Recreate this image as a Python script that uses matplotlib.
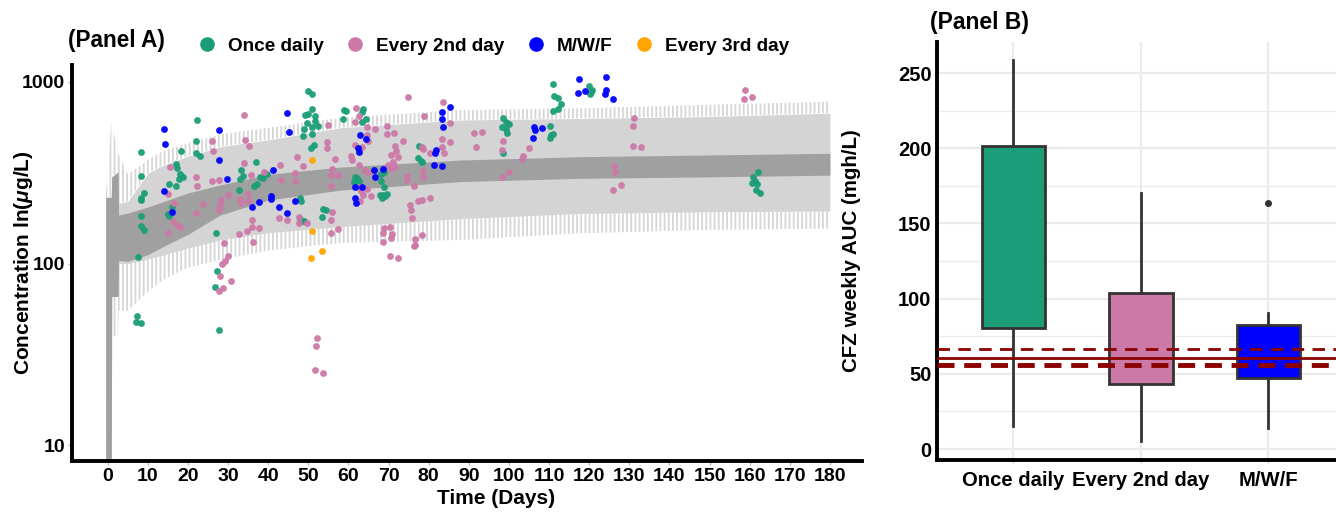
import numpy as np
import matplotlib
matplotlib.use("Agg")
import matplotlib.pyplot as plt
from matplotlib.lines import Line2D

plt.rcParams['font.family'] = ['Liberation Sans', 'DejaVu Sans']
plt.rcParams['font.weight'] = 'bold'
plt.rcParams['mathtext.fontset'] = 'custom'
plt.rcParams['mathtext.it'] = 'Liberation Sans:bold:italic'
plt.rcParams['mathtext.rm'] = 'Liberation Sans:bold'
plt.rcParams['hatch.linewidth'] = 1.3

# ---- Panel A: simulated band ----
band_day = [-0.5, 0.9, 1.0, 2.6, 2.7, 5, 10, 14, 20, 28, 40, 58, 88, 118, 148, 180]
mid_hi = [232, 232, 300, 320, 185, 190, 205, 220, 245, 271, 310, 340, 372, 388, 396, 405]
mid_lo = [8, 8, 66, 66, 104, 103, 112, 125, 145, 185, 224, 254, 283, 295, 300, 307]
pi_hi = [232, 232, 300, 320, 215, 220, 314, 350, 390, 440, 480, 560, 618, 630, 644, 673]
pi_hi_peak = [232, 600, 600, 400, 400, 310, 372, 420, 460, 515, 560, 635, 701, 716, 747, 779]
pi_lo = [8, 8, 66, 66, 100, 100, 106, 112, 122, 135, 148, 160, 177, 189, 193, 195]
pi_lo_trough = [8, 8, 40, 40, 55, 55, 70, 82, 95, 105, 118, 130, 135, 147, 153, 156]

# ---- Panel A: observed concentrations ----
od_day = [22.3, 8.3, 22.0, 18.3, 21.9, 22.9, 17.0, 17.3, 8.4, 18.1, 18.8, 17.8, 15.3, 16.9, 9.1, 8.2, 8.3,
          16.0, 15.0, 15.2, 8.2, 8.3, 9.1, 27.0, 7.5, 27.3, 26.8, 7.3, 7.1, 8.2, 27.7,
          50.0, 51.0, 50.8, 49.8, 49.1, 51.6, 49.6, 51.6, 49.0, 50.8, 52.4, 48.7, 51.0, 50.6, 51.5,
          36.9, 33.2, 33.8, 33.0, 37.9, 39.2, 39.8, 38.8, 37.1, 36.5, 32.7, 48.0, 48.3, 47.9, 48.5, 49.0,
          53.7, 54.4, 53.5,
          58.8, 59.5, 63.7, 63.4, 58.6, 64.3, 63.5, 77.7, 77.3, 78.0, 78.4, 68.0, 68.9, 61.6, 62.2, 61.4,
          62.6, 68.0, 68.9, 67.8, 68.6, 69.6, 68.4, 69.0,
          111.1, 111.3, 112.2, 113.0, 112.3, 111.0, 98.5, 99.3, 100.1, 98.2, 99.3, 99.6, 110.2, 110.5,
          111.1, 110.3, 98.6,
          120.0, 120.8, 120.2, 120.4,
          162.0, 160.8, 161.3, 160.5, 161.9, 161.6, 162.6]
od_conc = [614, 412, 473, 417, 409, 391, 352, 338, 302, 312, 300, 293, 273, 268, 244, 230, 225,
           204, 187, 184, 183, 161, 154, 148, 109, 91, 74, 51.5, 48, 47, 43,
           892, 858, 710, 665, 657, 650, 595, 612, 549, 562, 572, 505, 515, 432, 450,
           363, 328, 304, 291, 300, 310, 312, 295, 275, 268, 255, 230, 222, 176, 172, 171,
           199, 197, 181,
           701, 690, 707, 681, 625, 625, 600, 446, 380, 368, 364, 310, 319, 299, 295, 283,
           286, 286, 265, 238, 240, 241, 230, 236,
           975, 837, 813, 757, 710, 692, 636, 601, 588, 567, 549, 527, 572, 510,
           515, 489, 409,
           955, 904, 859, 884,
           318, 299, 285, 278, 275, 254, 246]

e2_day = [26.1, 26.2, 15.5, 22.0, 22.3, 25.9, 27.7, 15.1, 16.5, 23.8, 21.9, 27.7, 16.2, 17.2, 18.0, 15.1,
          34.0, 55.0, 34.2, 35.1, 54.7, 54.7, 47.1, 56.6, 33.9, 42.9, 48.6, 55.8, 55.6, 57.4, 39.0, 46.8,
          35.7, 43.2, 46.7, 55.7, 34.9, 29.9, 28.2, 28.1, 32.9, 33.2, 34.9, 55.9, 55.7, 42.7, 44.7, 47.7,
          47.6, 49.6, 35.9, 37.8, 35.9, 34.8, 32.8, 36.3, 29.1, 55.6, 57.4, 29.9, 29.2, 28.4, 28.0, 30.8,
          28.8, 27.8, 52.1, 51.9, 51.7, 53.7,
          74.8, 83.6, 62.0, 61.6, 62.7, 64.6, 78.8, 69.6, 66.5, 69.5, 71.4, 64.6, 85.2, 64.9, 73.5, 85.2,
          83.3, 83.3, 83.7, 61.6, 63.5, 71.5, 71.8, 70.5, 72.3, 78.3, 78.7, 80.4, 60.6, 60.9, 62.6, 64.1,
          64.9, 69.8, 71.1, 70.5, 71.5, 74.6, 74.7, 78.6, 78.6, 62.6, 63.1, 63.6, 76.3, 64.6, 65.5, 63.0,
          77.3, 78.4, 80.4, 75.4, 75.5, 75.8, 68.9, 70.3, 68.5, 70.8, 70.5, 68.6, 78.3, 76.7, 76.5, 76.3,
          70.4, 72.3,
          91.4, 93.2, 91.7, 98.6, 98.3, 105.1, 103.4, 103.2, 100.1, 98.3,
          131.2, 131.0, 130.9, 132.9, 126.2, 126.4, 128.0, 126.0,
          158.8, 160.7, 158.6]
e2_conc = [475, 417, 340, 298, 268, 285, 287, 241, 217, 213, 189, 197, 172, 164, 160, 148,
           655, 580, 478, 443, 465, 435, 386, 375, 357, 348, 343, 330, 307, 306, 320, 315,
           309, 288, 285, 267, 243, 240, 224, 210, 226, 217, 220, 192, 175, 178, 173, 181,
           167, 168, 174, 158, 159, 151, 145, 132, 130, 148, 155, 110, 104, 100, 86, 80,
           73, 71, 39, 35, 26, 25,
           830, 779, 716, 600, 652, 567, 650, 572, 549, 515, 527, 510, 595, 475, 471, 469,
           485, 440, 405, 450, 437, 446, 417, 396, 386, 437, 427, 409, 391, 372, 349, 327,
           320, 349, 364, 333, 340, 303, 288, 299, 322, 265, 250, 240, 267, 257, 236, 220,
           220, 223, 230, 210, 197, 178, 157, 160, 147, 146, 138, 132, 144, 137, 127, 125,
           110, 108,
           527, 532, 437, 473, 422, 432, 391, 377, 318, 299,
           630, 572, 446, 437, 345, 320, 272, 254,
           904, 830, 804]

mwf_day = [14.1, 14.4, 27.7, 27.7, 14.0, 16.0,
           44.8, 45.1, 41.2, 29.8, 40.8, 40.7, 46.6, 37.8, 35.9, 42.7, 44.7,
           85.2, 83.3, 83.3, 83.6, 62.8, 64.5, 62.4, 62.6, 81.8, 81.5, 81.3, 83.3, 66.4, 68.5, 66.7,
           61.7, 63.4, 61.6, 62.0,
           106.2, 106.6, 108.2, 106.1,
           117.4, 117.1, 119.0, 124.3, 124.2, 124.0, 125.9]
mwf_conc = [550, 456, 547, 373, 250, 192,
            672, 532, 326, 291, 235, 228, 221, 218, 204, 206, 189,
            731, 681, 625, 567, 510, 483, 435, 414, 422, 405, 349, 345, 327, 332, 298,
            265, 263, 230, 215,
            567, 544, 560, 489,
            1035, 873, 895, 1070, 904, 855, 806]

e3_day = [51.0, 50.8, 53.5, 50.7]
e3_conc = [372, 151, 117, 108]

groups = ["Once daily", "Every 2nd day", "M/W/F", "Every 3rd day"]
colors = ["#1B9E77", "#CC79A7", "#0000FF", "#FFA500"]

# ---- Panel B: weekly AUC box statistics ----
box_groups = ["Once daily", "Every 2nd day", "M/W/F"]
auc_q1 = [80.5, 43.5, 47.0]
auc_med = [123, 77.5, 71.0]
auc_q3 = [201.5, 104, 82.5]
auc_lo = [15.5, 5.5, 14.0]
auc_hi = [258.5, 170.5, 90.5]
auc_out = [[], [], [163.5]]
target = 60.7
target_hi = 66.3
target_lo = 55.6

fig = plt.figure(figsize=(13.36, 5.12), dpi=100)

# ======== Panel A ========
axA = fig.add_axes([72/1336, 1-461/512, 790/1336, 396/512])
axA.fill_between(band_day, pi_lo, pi_hi, color="#D4D4D4", lw=0, zorder=1)
axA.fill_between(band_day, pi_hi, pi_hi_peak, facecolor="none", edgecolor="#D6D6D6",
                 hatch="||||", lw=0, zorder=1)
axA.fill_between(band_day, pi_lo_trough, pi_lo, facecolor="none", edgecolor="#D6D6D6",
                 hatch="||||", lw=0, zorder=1)
axA.fill_between(band_day, mid_lo, mid_hi, color="#A0A0A0", lw=0, zorder=2)

handles = []
for d, c, col, lab in zip([od_day, e2_day, mwf_day, e3_day],
                          [od_conc, e2_conc, mwf_conc, e3_conc], colors, groups):
    axA.scatter(d, c, s=24, color=col, alpha=0.95, lw=0, zorder=3)
    handles.append(Line2D([], [], ls="none", marker="o", ms=9.5, color=col, label=lab))

axA.set_yscale("log")
axA.set_ylim(8.2, 1240)
axA.set_xlim(-8.9, 188)
axA.set_yticks([10, 100, 1000])
axA.set_yticklabels(["10", "100", "1000"])
axA.yaxis.set_minor_locator(matplotlib.ticker.NullLocator())
axA.set_xticks(np.arange(0, 181, 10))
axA.tick_params(axis="both", labelsize=14, length=3, color="#bbbbbb", width=1, pad=2,
                labelcolor="black")
for s in ["top", "right"]:
    axA.spines[s].set_visible(False)
for s in ["left", "bottom"]:
    axA.spines[s].set_linewidth(2.8)
axA.set_xlabel("Time (Days)", fontsize=15, fontweight="bold")
axA.xaxis.set_label_coords(0.537, -0.071)
axA.set_ylabel("Concentration ln($\\mu$g/L)", fontsize=15, fontweight="bold")
axA.yaxis.set_label_coords(-0.047, 0.5)

fig.text(68/1336, 1-40/512, "(Panel A)", fontsize=16.3, fontweight="bold", va="center")
fig.legend(handles=handles, loc="center left", bbox_to_anchor=(190/1336, 1-46/512), ncol=4,
           frameon=False, fontsize=13.7, handlelength=1.0, handletextpad=0.6,
           columnspacing=1.15, borderaxespad=0)

# ======== Panel B ========
axB = fig.add_axes([937/1336, 1-460/512, 399/1336, 418/512])
stats = []
for i in range(len(box_groups)):
    stats.append(dict(med=auc_med[i], q1=auc_q1[i], q3=auc_q3[i], whislo=auc_lo[i],
                      whishi=auc_hi[i], fliers=auc_out[i]))
bp = axB.bxp(stats, positions=range(len(box_groups)), widths=0.5, patch_artist=True,
             showcaps=False,
             boxprops=dict(edgecolor="#333333", linewidth=2),
             medianprops=dict(color="#333333", linewidth=4.5, solid_capstyle="butt"),
             whiskerprops=dict(color="#333333", linewidth=2),
             flierprops=dict(marker="o", markersize=4, markerfacecolor="#333333",
                             markeredgecolor="#333333"))
for patch, col in zip(bp["boxes"], colors):
    patch.set_facecolor(col)
    patch.set_zorder(3)

axB.axhline(target, color="#8B0000", lw=2, zorder=5)
axB.axhline(target_hi, color="#8B0000", lw=2, ls=(0, (4.5, 3)), zorder=5)
axB.axhline(target_lo, color="#8B0000", lw=3.5, ls=(0, (3.5, 2)), zorder=5)

axB.set_xlim(-0.6, 2.53)
axB.set_ylim(-7.3, 270.7)
axB.set_yticks([0, 50, 100, 150, 200, 250])
axB.set_yticks([25, 75, 125, 175, 225], minor=True)
axB.set_xticks(range(len(box_groups)))
axB.set_xticklabels(box_groups)
axB.grid(True, which="major", color="#EBEBEB", lw=1.6, zorder=0)
axB.grid(True, which="minor", axis="y", color="#EBEBEB", lw=0.9, zorder=0)
axB.set_axisbelow(True)
axB.tick_params(axis="y", which="both", length=0, labelsize=14.5, pad=4, labelcolor="black")
axB.tick_params(axis="x", length=2, color="#cccccc", labelsize=14.6, pad=6, labelcolor="black")
for s in ["top", "right"]:
    axB.spines[s].set_visible(False)
for s in ["left", "bottom"]:
    axB.spines[s].set_linewidth(2.8)
axB.set_ylabel("CFZ weekly AUC (mgh/L)", fontsize=14.8, fontweight="bold")
axB.yaxis.set_label_coords(-0.19, 0.5)
fig.text(930/1336, 1-22/512, "(Panel B)", fontsize=16.5, fontweight="bold", va="center")

fig.savefig("out.png", dpi=100)
